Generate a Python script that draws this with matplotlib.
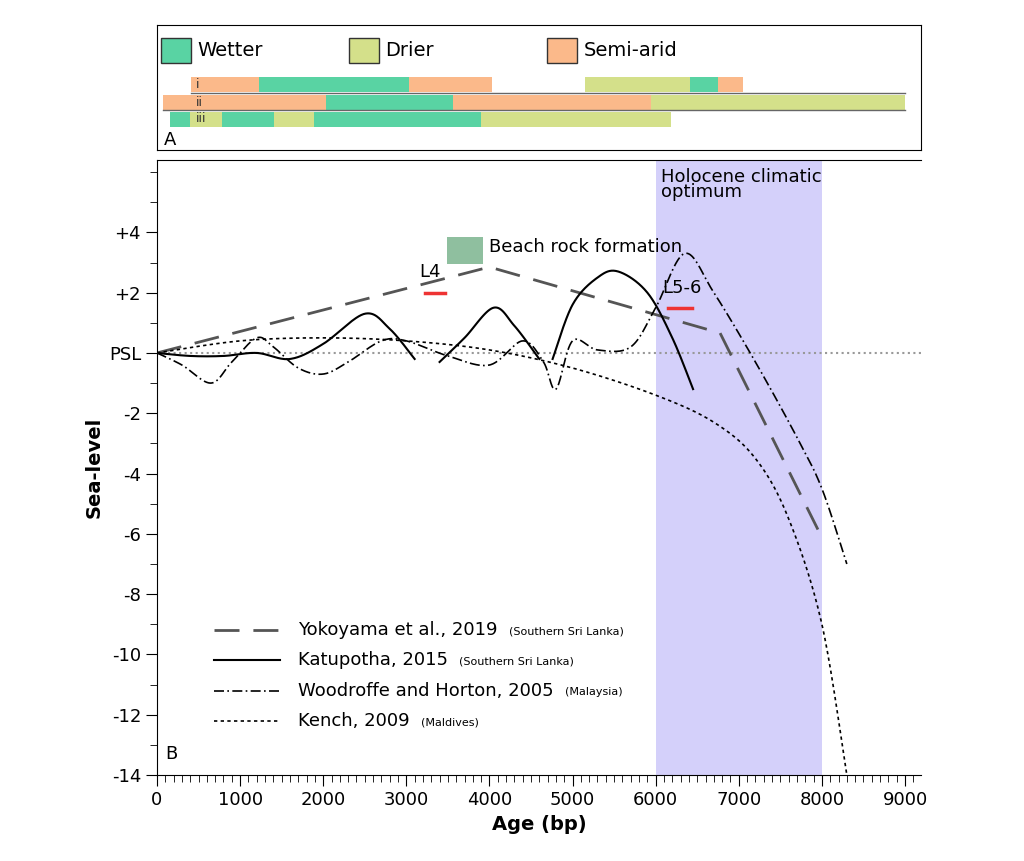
import numpy as np
import matplotlib.pyplot as plt
from matplotlib.patches import Rectangle

# climate bars (start, end, kind)
row_i = [(409, 1227, "s"), (1227, 3032, "w"), (3032, 4031, "s"),
         (5150, 6414, "d"), (6414, 6751, "w"), (6751, 7052, "s")]
row_ii = [(72, 2034, "s"), (2034, 3562, "w"), (3562, 5945, "s"), (5945, 9000, "d")]
row_iii = [(156, 397, "w"), (397, 782, "d"), (782, 1408, "w"), (1408, 1889, "d"),
           (1889, 3899, "w"), (3899, 6185, "d")]

yoko_x = [0, 4000, 6775, 7978]
yoko_y = [0, 2.85, 0.66, -6.0]
kat1_x = [0, 400, 800, 1200, 1600, 2000, 2500, 2800, 3100]
kat1_y = [0, -0.1, -0.1, 0.0, -0.2, 0.3, 1.3, 0.8, -0.2]
kat2_x = [3400, 3700, 4050, 4300, 4600]
kat2_y = [-0.3, 0.5, 1.5, 0.9, -0.2]
kat3_x = [4760, 5000, 5300, 5550, 5900, 6200, 6450]
kat3_y = [-0.2, 1.6, 2.5, 2.7, 2.0, 0.5, -1.2]
wood_x = [0, 300, 650, 900, 1200, 1400, 1700, 2000, 2300, 2700, 3000, 3500, 4000, 4400,
          4650, 4800, 5000, 5300, 5700, 6000, 6350, 6700, 7200, 7700, 8000, 8300]
wood_y = [0, -0.4, -1.0, -0.3, 0.5, 0.2, -0.5, -0.7, -0.3, 0.4, 0.4, -0.1, -0.4, 0.4,
          -0.3, -1.2, 0.4, 0.1, 0.2, 1.5, 3.3, 2.0, -0.3, -2.8, -4.5, -7.0]
kench_x = [0, 1000, 2000, 3000, 4000, 5000, 6000, 6700, 7200, 7600, 8000, 8300]
kench_y = [0, 0.4, 0.5, 0.4, 0.1, -0.5, -1.4, -2.3, -3.5, -5.5, -9.0, -14.0]

colors = {"w": "#59d3a3", "d": "#d4e08a", "s": "#fbb98a"}


def smooth(xs, ys, n=400):
    xs = np.array(xs, float); ys = np.array(ys, float)
    t = np.linspace(xs[0], xs[-1], n)
    # catmull-rom through points
    out_x, out_y = [], []
    P = np.column_stack([xs, ys])
    P = np.vstack([P[0], P, P[-1]])
    for i in range(1, len(P) - 2):
        p0, p1, p2, p3 = P[i - 1], P[i], P[i + 1], P[i + 2]
        for s in np.linspace(0, 1, 30, endpoint=False):
            pt = 0.5 * ((2 * p1) + (-p0 + p2) * s + (2 * p0 - 5 * p1 + 4 * p2 - p3) * s ** 2
                        + (-p0 + 3 * p1 - 3 * p2 + p3) * s ** 3)
            out_x.append(pt[0]); out_y.append(pt[1])
    out_x.append(xs[-1]); out_y.append(ys[-1])
    return out_x, out_y


fig = plt.figure(figsize=(10.24, 8.61), dpi=100)
xmax = 764 / (748 / 9000)

# panel A
axA = fig.add_axes([157 / 1024, 1 - 150 / 861, 764 / 1024, 125 / 861])
axA.set_xlim(0, xmax)
axA.set_ylim(150, 25)
axA.set_xticks([]); axA.set_yticks([])
for rows, y0, lab in [(row_i, 77, "i"), (row_ii, 95, "ii"), (row_iii, 112, "iii")]:
    for a, b, k in rows:
        axA.add_patch(Rectangle((a, y0), b - a, 15, color=colors[k], lw=0))
    axA.text(470, y0 + 7, lab, fontsize=9, va="center", color="#333333")
axA.plot([409, 9000], [93, 93], color="#666666", lw=1)
axA.plot([72, 9000], [110, 110], color="#666666", lw=1)
for xl, k, t in [(50, "w", "Wetter"), (2310, "d", "Drier"), (4690, "s", "Semi-arid")]:
    axA.add_patch(Rectangle((xl, 38), 360, 25, facecolor=colors[k], edgecolor="#333333", lw=1))
    axA.text(xl + 440, 51, t, fontsize=14, va="center")
axA.text(80, 140, "A", fontsize=13, va="center")

# panel B
ax = fig.add_axes([157 / 1024, 1 - 775 / 861, 764 / 1024, 615 / 861])
ax.set_xlim(0, xmax)
ax.set_ylim(-14, 6.4)
ax.spines["right"].set_visible(False)
ax.axvspan(6000, 8000, color="#d4d0fa", lw=0)
ax.axhline(0, color="#999999", ls=":", lw=1.5)

ax.plot(yoko_x, yoko_y, color="#555555", lw=2, dashes=(9, 5))
for xs, ys in [(kat1_x, kat1_y), (kat2_x, kat2_y), (kat3_x, kat3_y)]:
    sx, sy = smooth(xs, ys)
    ax.plot(sx, sy, color="black", lw=1.5)
sx, sy = smooth(wood_x, wood_y)
ax.plot(sx, sy, color="black", lw=1.2, dashes=(6, 2, 1, 2))
sx, sy = smooth(kench_x, kench_y)
ax.plot(sx, sy, color="black", lw=1.2, dashes=(2, 2))

ax.add_patch(Rectangle((3490, 2.95), 430, 0.9, color="#8fbf9f", lw=0))
ax.text(4000, 3.5, "Beach rock formation", fontsize=13, va="center")
ax.plot([3225, 3465], [2.0, 2.0], color="#ee3333", lw=2.5)
ax.text(3150, 2.7, "L4", fontsize=13, va="center")
ax.plot([6150, 6440], [1.5, 1.5], color="#ee3333", lw=2.5)
ax.text(6080, 2.15, "L5-6", fontsize=13, va="center")
ax.text(6060, 5.6, "Holocene climatic\noptimum", fontsize=13, va="center", linespacing=0.8)

# legend
leg = [("Yokoyama et al., 2019", "(Southern Sri Lanka)", dict(color="#555555", lw=2, dashes=(9, 5))),
       ("Katupotha, 2015", "(Southern Sri Lanka)", dict(color="black", lw=1.5)),
       ("Woodroffe and Horton, 2005", "(Malaysia)", dict(color="black", lw=1.2, dashes=(6, 2, 1, 2))),
       ("Kench, 2009", "(Maldives)", dict(color="black", lw=1.2, dashes=(2, 2)))]
ys_leg = [-9.2, -10.2, -11.2, -12.2]
for (a, b, st), yy in zip(leg, ys_leg):
    ax.plot([680, 1480], [yy, yy], **st)
    t = ax.text(1700, yy, a + " ", fontsize=13, va="center")
    fig.canvas.draw()
    bb = t.get_window_extent().transformed(ax.transData.inverted())
    ax.text(bb.x1 + 60, yy - 0.05, b, fontsize=8, va="center")
ax.text(100, -13.3, "B", fontsize=13, va="center")

ax.set_xticks(range(0, 9001, 1000))
ax.set_xticks(range(0, 9101, 100), minor=True)
ax.set_yticks([4, 2, 0, -2, -4, -6, -8, -10, -12, -14])
ax.set_yticklabels(["+4", "+2", "PSL", "-2", "-4", "-6", "-8", "-10", "-12", "-14"])
ax.set_yticks(range(-14, 7), minor=True)
ax.tick_params(direction="out", labelsize=13, length=8)
ax.tick_params(which="minor", direction="out", length=5)
ax.set_xlabel("Age (bp)", fontsize=14, fontweight="bold")
ax.set_ylabel("Sea-level", fontsize=14, fontweight="bold")

fig.savefig("out.png", dpi=100)
